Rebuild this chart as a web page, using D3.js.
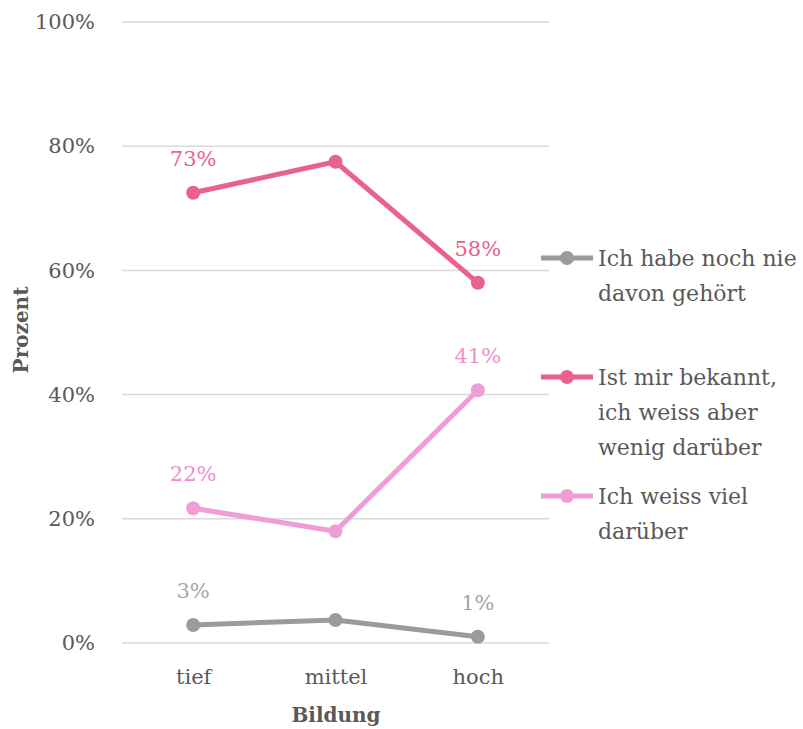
<!DOCTYPE html>
<html><head><meta charset="utf-8">
<script src="https://cdn.jsdelivr.net/npm/d3@7"></script>
<style>body{margin:0;background:#fff}svg{display:block}text{font-family:"DejaVu Serif",serif}</style>
</head><body><svg id="c" width="803" height="729"></svg>
<script>
const categories = ["tief", "mittel", "hoch"];
const seriesNames = ["Ich habe noch nie davon gehört", "Ist mir bekannt, ich weiss aber wenig darüber", "Ich weiss viel darüber"];
const legendLines = [["Ich habe noch nie", "davon gehört"], ["Ist mir bekannt,", "ich weiss aber", "wenig darüber"], ["Ich weiss viel", "darüber"]];
const nieValues = [2.9, 3.7, 1.0];
const bekanntValues = [72.5, 77.5, 58.0];
const vielValues = [21.7, 18.0, 40.7];
const labelNie = ["3%", null, "1%"];
const labelBekannt = ["73%", null, "58%"];
const labelViel = ["22%", null, "41%"];
const yTicks = [0, 20, 40, 60, 80, 100];
const colors = ["#9b9b9b", "#e8628c", "#ef9ed4"];
const labelColors = ["#a6a6a6", "#e8628c", "#ef8fd0"];

const series = [
  {name: seriesNames[0], values: nieValues, labels: labelNie},
  {name: seriesNames[1], values: bekanntValues, labels: labelBekannt},
  {name: seriesNames[2], values: vielValues, labels: labelViel}
];

const svg = d3.select("#c");
const x = d3.scalePoint().domain(categories).range([122, 549]).padding(0.5);
const y = d3.scaleLinear().domain([0, 100]).range([643, 22]);

// gridlines
svg.append("g").selectAll("line").data(yTicks).join("line")
  .attr("x1", 122).attr("x2", 549)
  .attr("y1", d => y(d)).attr("y2", d => y(d))
  .attr("stroke", "#d9d9d9").attr("stroke-width", 1.5);

// y axis labels
const yAxis = svg.append("g").attr("transform", "translate(122,0)")
  .call(d3.axisLeft(y).tickValues(yTicks).tickFormat(d => d + "%").tickSize(0).tickPadding(27));
yAxis.select(".domain").remove();
yAxis.selectAll("text").attr("font-size", 21).attr("fill", "#595959").attr("font-family", "DejaVu Serif");

// x axis labels
const xAxis = svg.append("g").attr("transform", "translate(0,643)")
  .call(d3.axisBottom(x).tickSize(0).tickPadding(26));
xAxis.select(".domain").remove();
xAxis.selectAll("text").attr("font-size", 21).attr("fill", "#595959").attr("font-family", "DejaVu Serif");

// axis titles
svg.append("text").attr("x", 336).attr("y", 722).attr("text-anchor", "middle")
  .attr("font-size", 20).attr("font-weight", "bold").attr("fill", "#595959").text("Bildung");
svg.append("text").attr("transform", "translate(28,330) rotate(-90)").attr("text-anchor", "middle")
  .attr("font-size", 20).attr("font-weight", "bold").attr("fill", "#595959").text("Prozent");

const line = d3.line().x((d, i) => x(categories[i])).y(d => y(d));

series.forEach((s, si) => {
  const g = svg.append("g");
  g.append("path").datum(s.values).attr("d", line).attr("fill", "none")
    .attr("stroke", colors[si]).attr("stroke-width", 5).attr("stroke-linejoin", "round");
  g.selectAll("circle").data(s.values).join("circle")
    .attr("cx", (d, i) => x(categories[i])).attr("cy", d => y(d)).attr("r", 7)
    .attr("fill", colors[si]);
  const pts = s.values.map((v, i) => ({cat: categories[i], v: v, label: s.labels[i]}))
    .filter(p => p.label !== null);
  g.selectAll("text").data(pts).join("text")
    .attr("x", p => x(p.cat)).attr("y", p => y(p.v) - 27)
    .attr("text-anchor", "middle").attr("font-size", 21).attr("fill", labelColors[si])
    .text(p => p.label);
});

// legend
const legendY = [258, 377, 496];
series.forEach((s, si) => {
  const g = svg.append("g").attr("transform", `translate(0,${legendY[si]})`);
  g.append("line").attr("x1", 541).attr("x2", 593).attr("y1", 0).attr("y2", 0)
    .attr("stroke", colors[si]).attr("stroke-width", 5);
  g.append("circle").attr("cx", 567).attr("cy", 0).attr("r", 7).attr("fill", colors[si]);
  const t = g.append("text").attr("x", 598).attr("y", 8).attr("font-size", 22).attr("fill", "#595959");
  legendLines[si].forEach((l, li) => {
    t.append("tspan").attr("x", 598).attr("dy", li === 0 ? 0 : 35).text(l);
  });
});
</script></body></html>
